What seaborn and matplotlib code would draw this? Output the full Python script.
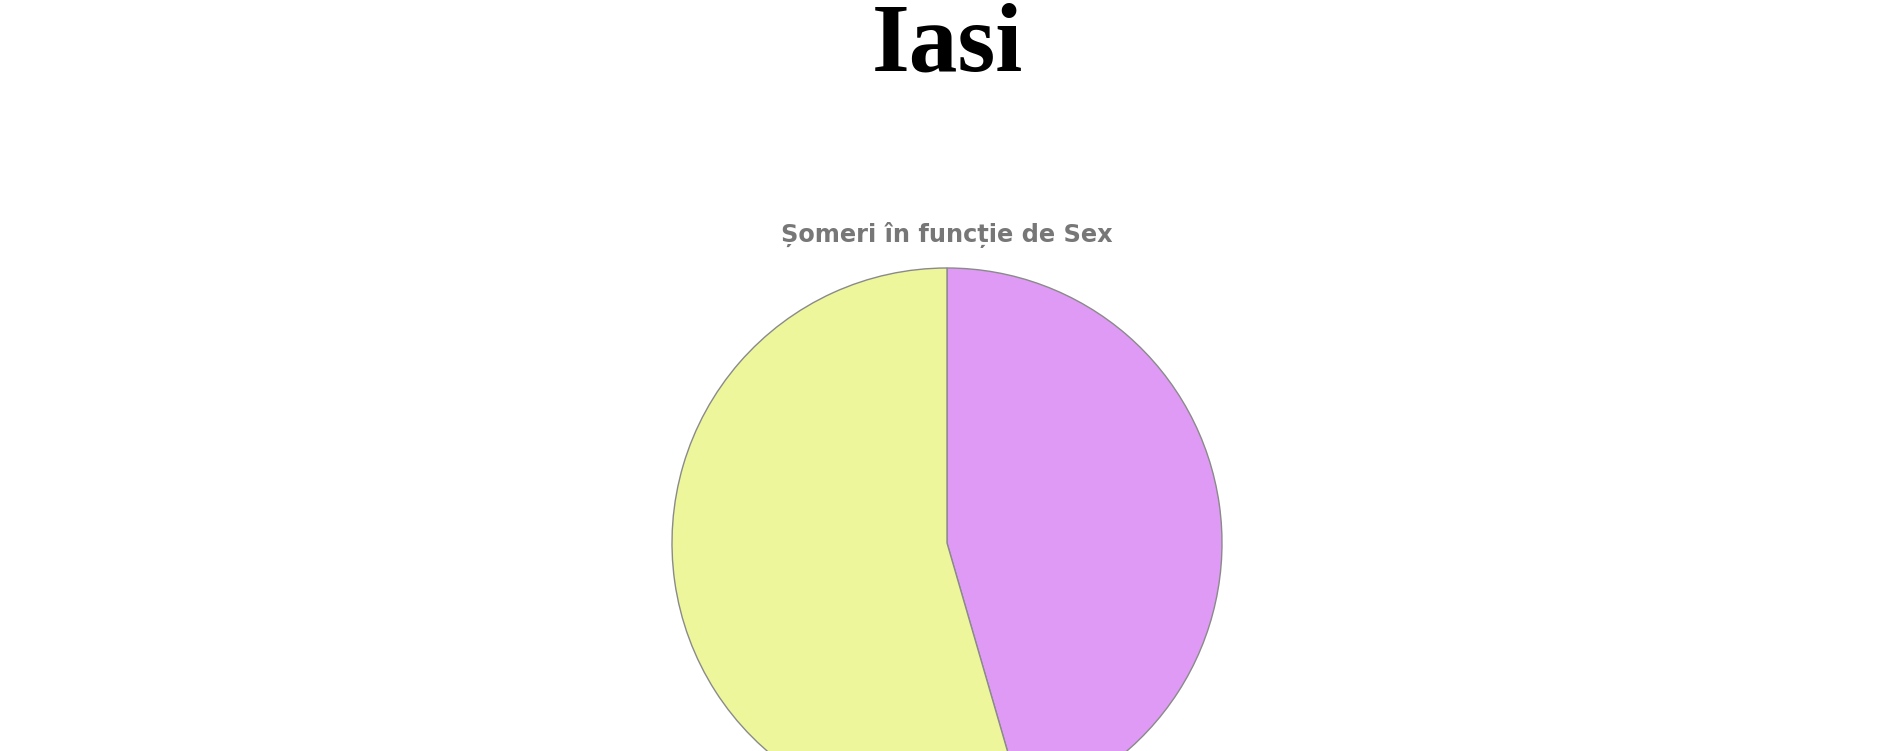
import matplotlib
matplotlib.use("Agg")
import matplotlib.pyplot as plt
import seaborn as sns

# date: someri in functie de sex (judetul Iasi)
sexe = ["Masculin", "Feminin"]
someri = [45.5, 54.5]
culori = ["#de9af4", "#eef69c"]

sns.set_theme(style="white")
plt.rcParams['font.family'] = ['DejaVu Sans']

W, H = 1888, 751
fig = plt.figure(figsize=(W / 100, H / 100), dpi=100)
fig.patch.set_facecolor("white")

# titlul paginii
fig.text(947 / W, 1 - 71 / H, "Iasi", ha="center", va="baseline",
         fontsize=70, fontweight="bold", family="Liberation Serif", color="black")

# titlul graficului
fig.text(947 / W, 1 - 242 / H, "Șomeri în funcție de Sex", ha="center", va="baseline",
         fontsize=17.3, fontweight="bold", color="#777777")

# pie - centru (947, 543), raza 275 px
cx, cy, r = 947, 543, 275
ax = fig.add_axes([(cx - r) / W, (H - cy - r) / H, 2 * r / W, 2 * r / H])
ax.pie(someri, colors=culori, startangle=90, counterclock=False, radius=1,
       wedgeprops={"edgecolor": "#8a8a8a", "linewidth": 1.0})
ax.set_xlim(-1.0, 1.0)
ax.set_ylim(-1.0, 1.0)
ax.set_aspect("equal")
ax.axis("off")

fig.savefig("out.png", dpi=100)
